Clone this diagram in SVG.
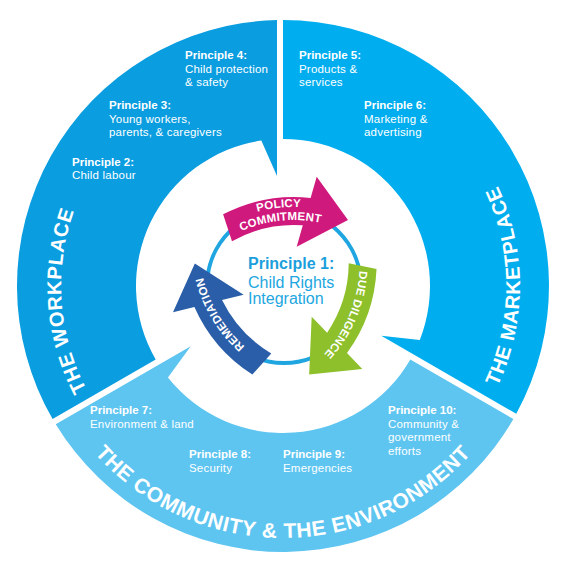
<svg xmlns="http://www.w3.org/2000/svg" xmlns:xlink="http://www.w3.org/1999/xlink" width="567" height="572" viewBox="0 0 567 572">
<style>
text{font-family:"Liberation Sans",Arial,sans-serif}
.pb{font-weight:bold;font-size:11.5px;fill:#fff}
.pt{font-size:11.5px;fill:#fff;letter-spacing:0.2px}
.title{font-weight:bold;font-size:20px;fill:#fff;letter-spacing:0.6px}
.at{font-weight:bold;font-size:11.5px;fill:#fff;letter-spacing:0.2px}
.c1{font-size:16px;fill:#22a6e0}
</style>
<defs>
<path id="seg" d="M52.6,419 A266,266 0 0 1 277,20.1 L277,176 L261.3,140.6 A147,147 0 0 0 155.7,359.5 Z"/>
<path id="arrow" d="M223.1,214.3 A154,154 0 0 1 310.6,197.9 L316.7,176.7 L348,220 L296.7,246.7 L302.8,225.3 A126,126 0 0 0 232,241.3 Z"/>
<path id="tpTop" d="M183.7,258.4 A144,144 0 0 1 382.7,237.5"/>
<path id="tpBot" d="M193.7,266.8 A131,131 0 0 1 374.7,247.8"/>
<path id="tpDue" d="M187.5,264.8 A137,137 0 0 1 376.4,241.6"/>
<path id="tpRem" d="M197.8,254.8 A136,136 0 0 1 386.8,251.5"/>
<path id="tpWork" d="M185.7,485.5 A222,222 0 0 1 158.9,102"/>
<path id="tpMark" d="M401.5,491.2 A237,237 0 0 0 401.5,80.8"/>
<path id="tpComm" d="M46.2,372.2 A252,252 0 0 0 519.8,372.2"/>
</defs>
<rect width="567" height="572" fill="#fff"/>

<g id="workplace">
<use xlink:href="#seg" href="#seg" fill="#0a9ddf"/>
<text class="title"><textPath xlink:href="#tpWork" href="#tpWork" startOffset="50%" text-anchor="middle">THE WORKPLACE</textPath></text>
<text x="185" y="59" class="pb">Principle 4:</text>
<text x="185" y="72.5" class="pt">Child protection</text>
<text x="185" y="86" class="pt">&amp; safety</text>
<text x="109" y="109" class="pb">Principle 3:</text>
<text x="109" y="122.5" class="pt">Young workers,</text>
<text x="109" y="136" class="pt">parents, &amp; caregivers</text>
<text x="72" y="165.5" class="pb">Principle 2:</text>
<text x="72" y="179" class="pt">Child labour</text>
</g>

<g id="marketplace">
<use xlink:href="#seg" href="#seg" fill="#00aeef" transform="rotate(120 283 286)"/>
<text class="title"><textPath xlink:href="#tpMark" href="#tpMark" startOffset="50%" text-anchor="middle">THE MARKETPLACE</textPath></text>
<text x="299" y="59" class="pb">Principle 5:</text>
<text x="299" y="72.5" class="pt">Products &amp;</text>
<text x="299" y="86" class="pt">services</text>
<text x="364" y="109" class="pb">Principle 6:</text>
<text x="364" y="122.5" class="pt">Marketing &amp;</text>
<text x="364" y="136" class="pt">advertising</text>
</g>

<g id="community">
<use xlink:href="#seg" href="#seg" fill="#5ec5f1" transform="rotate(240 283 286)"/>
<text class="title" style="font-size:21px"><textPath xlink:href="#tpComm" href="#tpComm" startOffset="50%" text-anchor="middle">THE COMMUNITY &amp; THE ENVIRONMENT</textPath></text>
<text x="90" y="414" class="pb">Principle 7:</text>
<text x="90" y="427.5" class="pt">Environment &amp; land</text>
<text x="189" y="458" class="pb">Principle 8:</text>
<text x="189" y="471.5" class="pt">Security</text>
<text x="283" y="458" class="pb">Principle 9:</text>
<text x="283" y="471.5" class="pt">Emergencies</text>
<text x="388" y="414" class="pb">Principle 10:</text>
<text x="388" y="427.5" class="pt">Community &amp;</text>
<text x="388" y="441" class="pt">government</text>
<text x="388" y="454.5" class="pt">efforts</text>
</g>

<g id="connectors">
<circle cx="284" cy="286" r="77" fill="none" stroke="#1fa5e0" stroke-width="4"/>
</g>

<g id="principle1">
<text x="248" y="269" class="c1" font-weight="bold" fill="#1b9fdc" style="fill:#1b9fdc">Principle 1:</text>
<text x="248" y="287.5" class="c1">Child Rights</text>
<text x="248" y="304" class="c1">Integration</text>
</g>

<g id="policy-commitment">
<use xlink:href="#arrow" href="#arrow" fill="#d0197d"/>
<text class="at"><textPath xlink:href="#tpTop" href="#tpTop" startOffset="50%" text-anchor="middle">POLICY</textPath></text>
<text class="at"><textPath xlink:href="#tpBot" href="#tpBot" startOffset="50%" text-anchor="middle">COMMITMENT</textPath></text>
</g>

<g id="due-diligence" transform="rotate(120 284 286)">
<use xlink:href="#arrow" href="#arrow" fill="#8dc02a"/>
<text class="at"><textPath xlink:href="#tpDue" href="#tpDue" startOffset="50%" text-anchor="middle">DUE DILIGENCE</textPath></text>
</g>

<g id="remediation" transform="rotate(240 284 286)">
<use xlink:href="#arrow" href="#arrow" fill="#2a5ea9"/>
<text class="at"><textPath xlink:href="#tpRem" href="#tpRem" startOffset="50%" text-anchor="middle">REMEDIATION</textPath></text>
</g>
</svg>
